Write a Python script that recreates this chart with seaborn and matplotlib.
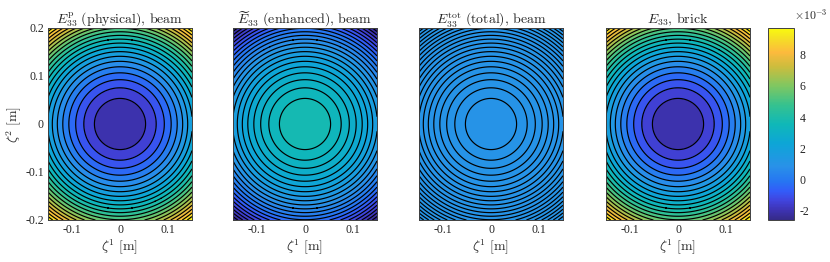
import numpy as np
import matplotlib
matplotlib.use('Agg')
from matplotlib import pyplot as plt
from matplotlib.colors import LinearSegmentedColormap, Normalize
from matplotlib.cm import ScalarMappable
import seaborn as sns
sns.set_style('ticks')
plt.rcParams['font.family'] = ['Liberation Serif', 'DejaVu Serif']
plt.rcParams['mathtext.fontset'] = 'cm'
plt.rcParams['axes.unicode_minus'] = False

# values in units of 1e-3
titles = [r'$E^{\mathrm{p}}_{33}\ \mathrm{(physical),\,beam}$',
          r'$\widetilde{E}_{33}\ \mathrm{(enhanced),\,beam}$',
          r'$E^{\mathrm{tot}}_{33}\ \mathrm{(total),\,beam}$',
          r'$E_{33}\mathrm{,\,brick}$']
centre_values = [-2.3, 3.9, 0.98, -2.3]   # value at zeta = (0, 0)
corner_values = [9.72, -2.6, 1.02, 9.72]  # value at zeta = (+-0.15, +-0.2)
clim = [-2.6, 9.72]
cbar_ticks = [-2, 0, 2, 4, 6, 8]
x_ticks = [-0.1, 0, 0.1]
y_ticks = [-0.2, -0.1, 0, 0.1, 0.2]
n_levels = 22

# parula-like colormap
parula_pos = [0.0, 0.05, 0.10, 0.15, 0.20, 0.28, 0.40, 0.50, 0.60, 0.70, 0.80, 0.875, 0.95, 1.0]
parula_rgb = [(0.208, 0.166, 0.529), (0.240, 0.200, 0.700), (0.253, 0.265, 0.865),
              (0.200, 0.360, 0.975), (0.150, 0.460, 0.950), (0.160, 0.570, 0.910),
              (0.050, 0.650, 0.840), (0.060, 0.720, 0.720), (0.210, 0.760, 0.560),
              (0.500, 0.780, 0.380), (0.800, 0.740, 0.240), (0.990, 0.730, 0.240),
              (0.960, 0.880, 0.140), (0.976, 0.983, 0.054)]
parula = LinearSegmentedColormap.from_list('parula', list(zip(parula_pos, parula_rgb)))
norm = Normalize(vmin=clim[0], vmax=clim[1])

z1 = np.linspace(-0.15, 0.15, 301)
z2 = np.linspace(-0.2, 0.2, 401)
Z1, Z2 = np.meshgrid(z1, z2)
R2 = (Z1**2 + Z2**2) / (0.15**2 + 0.2**2)

fig = plt.figure(figsize=(8.3, 2.62), dpi=100)
W, H = 830., 262.
lefts = [48, 233, 419, 606]
edge = '#404040'
for i, left in enumerate(lefts):
    ax = fig.add_axes([left / W, 42 / H, 144 / W, 192 / H])
    field = centre_values[i] + (corner_values[i] - centre_values[i]) * R2
    levels = np.linspace(field.min(), field.max(), n_levels + 1)
    ax.contourf(Z1, Z2, field, levels=levels, cmap=parula, norm=norm)
    ax.contour(Z1, Z2, field, levels=levels[1:-1], colors='k',
               linewidths=0.85, linestyles='solid')
    ax.set_xlim(-0.15, 0.15)
    ax.set_ylim(-0.2, 0.2)
    ax.set_xticks(x_ticks)
    ax.set_xticklabels(['%g' % t for t in x_ticks])
    ax.set_yticks(y_ticks)
    if i == 0:
        ax.set_yticklabels(['%g' % t for t in y_ticks])
        ax.set_ylabel(r'$\zeta^2\ \mathrm{[m]}$', fontsize=10, labelpad=1)
    else:
        ax.set_yticklabels([])
    ax.set_xlabel(r'$\zeta^1\ \mathrm{[m]}$', fontsize=10, labelpad=1)
    ax.set_title(titles[i], fontsize=10, pad=3)
    ax.tick_params(direction='in', length=2.5, width=0.5, color=edge,
                   top=True, right=True, labelsize=8.5, pad=3)
    for s in ax.spines.values():
        s.set_color(edge)
        s.set_linewidth(0.7)

cax = fig.add_axes([768 / W, 42 / H, 26 / W, 192 / H])
sm = ScalarMappable(norm=norm, cmap=parula)
cb = fig.colorbar(sm, cax=cax)
cb.set_ticks(cbar_ticks)
cb.set_ticklabels(['%g' % t for t in cbar_ticks])
cax.tick_params(direction='in', length=2.5, width=0.5, color=edge, labelsize=8.5, pad=4)
cb.outline.set_edgecolor(edge)
cb.outline.set_linewidth(0.7)
fig.text(794 / W, 1 - 15 / H, r'$\times 10^{-3}$', fontsize=8.5, ha='left', va='center')

fig.savefig('out.png', dpi=100)
